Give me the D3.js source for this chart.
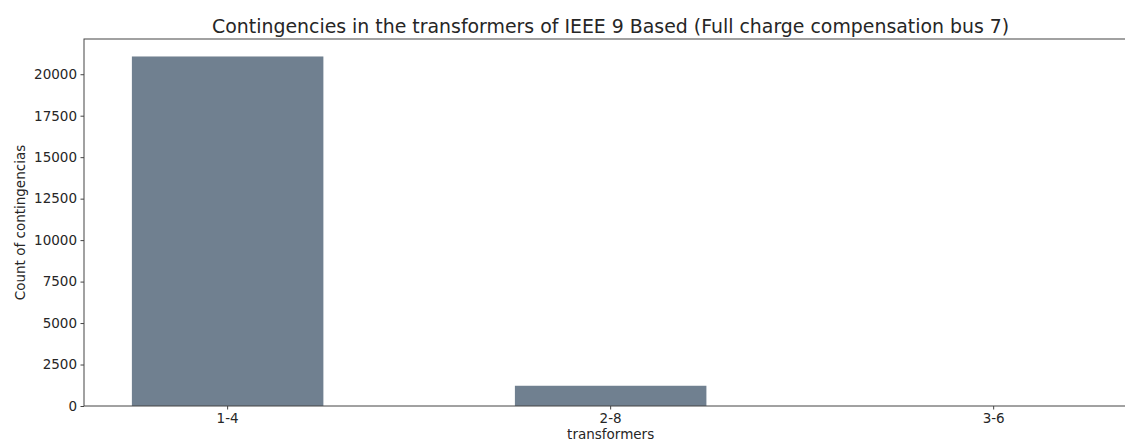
<!DOCTYPE html>
<html>
<head>
<meta charset="utf-8">
<script src="https://cdn.jsdelivr.net/npm/d3@7"></script>
<style>
  html, body { margin: 0; padding: 0; background: #fff; overflow: hidden; }
  svg { display: block; font-family: "DejaVu Sans", sans-serif; }
</style>
</head>
<body>
<svg id="chart" width="1125" height="443"></svg>
<script>
// Contingency counts per transformer branch
const categories = ["1-4", "2-8", "3-6"];
const counts = [21070, 1220, 0];
const yTicks = [0, 2500, 5000, 7500, 10000, 12500, 15000, 17500, 20000];

const titleText = "Contingencies in the transformers of IEEE 9 Based (Full charge compensation bus 7)";
const xLabel = "transformers";
const yLabel = "Count of contingencias";

const svg = d3.select("#chart");
const plot = { left: 84, right: 1137.3, top: 39, bottom: 406 };
const ink = "#262626";
const spine = "#444";

const x = d3.scaleBand()
  .domain(categories)
  .range([plot.left, plot.right])
  .paddingInner(0.5)
  .paddingOuter(0.125);

const yMax = d3.max(counts) * 1.05;
const y = d3.scaleLinear().domain([0, yMax]).range([plot.bottom, plot.top]);

// bars
svg.append("g")
  .selectAll("rect")
  .data(categories)
  .join("rect")
  .attr("x", d => x(d))
  .attr("width", x.bandwidth())
  .attr("y", (d, i) => y(counts[i]))
  .attr("height", (d, i) => y(0) - y(counts[i]))
  .attr("fill", "#708090");

// y axis
const yAxis = svg.append("g")
  .attr("transform", `translate(${plot.left},0)`)
  .call(d3.axisLeft(y).tickValues(yTicks).tickFormat(d3.format("d")).tickSize(3.5).tickPadding(3.5));
yAxis.select(".domain").remove();
yAxis.selectAll(".tick line").attr("stroke", spine);
yAxis.selectAll(".tick text")
  .attr("fill", ink)
  .style("font-size", "13.5px")
  .style("font-family", "DejaVu Sans");

// x axis
const xAxis = svg.append("g")
  .attr("transform", `translate(0,${plot.bottom})`)
  .call(d3.axisBottom(x).tickSize(3.5).tickPadding(3.5));
xAxis.select(".domain").remove();
xAxis.selectAll(".tick line").attr("stroke", spine);
xAxis.selectAll(".tick text")
  .attr("fill", ink)
  .style("font-size", "13.5px")
  .style("font-family", "DejaVu Sans");

// frame
svg.append("rect")
  .attr("x", plot.left)
  .attr("y", plot.top)
  .attr("width", plot.right - plot.left)
  .attr("height", plot.bottom - plot.top)
  .attr("fill", "none")
  .attr("stroke", spine)
  .attr("stroke-width", 1);

// labels
svg.append("text")
  .attr("x", (plot.left + plot.right) / 2)
  .attr("y", 33)
  .attr("text-anchor", "middle")
  .attr("fill", ink)
  .style("font-size", "18.9px")
  .text(titleText);

svg.append("text")
  .attr("x", x("2-8") + x.bandwidth() / 2)
  .attr("y", 439)
  .attr("text-anchor", "middle")
  .attr("fill", ink)
  .style("font-size", "13.5px")
  .text(xLabel);

svg.append("text")
  .attr("transform", `translate(25,${(plot.top + plot.bottom) / 2}) rotate(-90)`)
  .attr("text-anchor", "middle")
  .attr("fill", ink)
  .style("font-size", "13.5px")
  .text(yLabel);
</script>
</body>
</html>
